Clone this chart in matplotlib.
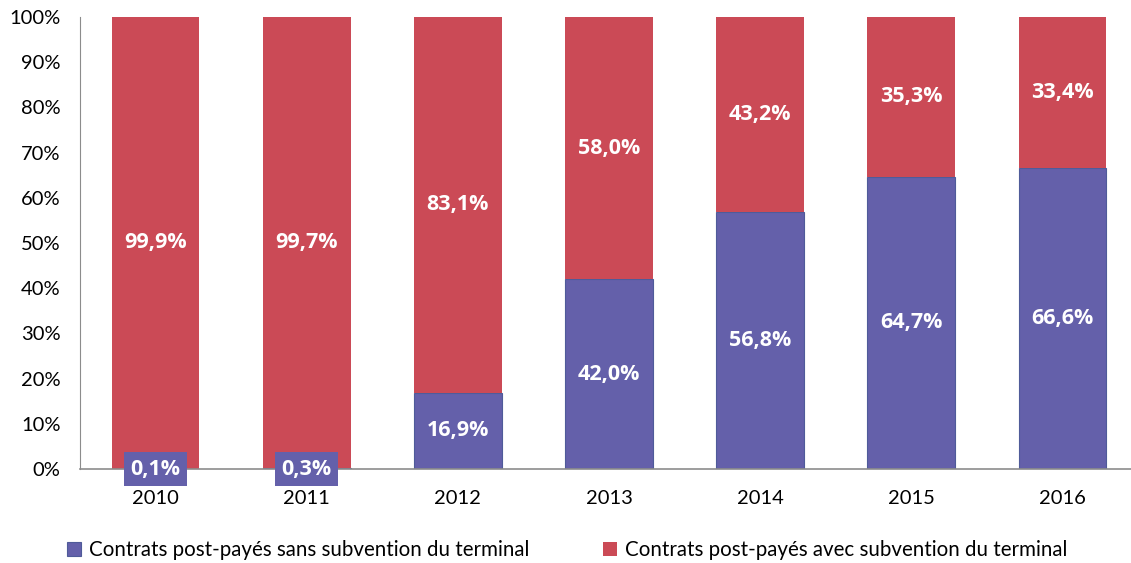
import matplotlib.pyplot as plt
import numpy as np

years = ["2010", "2011", "2012", "2013", "2014", "2015", "2016"]
sans_subv = [0.1, 0.3, 16.9, 42.0, 56.8, 64.7, 66.6]
avec_subv = [99.9, 99.7, 83.1, 58.0, 43.2, 35.3, 33.4]
sans_labels = ["0,1%", "0,3%", "16,9%", "42,0%", "56,8%", "64,7%", "66,6%"]
avec_labels = ["99,9%", "99,7%", "83,1%", "58,0%", "43,2%", "35,3%", "33,4%"]
legend_names = ["Contrats post-payés sans subvention du terminal",
                "Contrats post-payés avec subvention du terminal"]

blue = "#6460AA"
red = "#CB4A56"
plt.rcParams['font.family'] = ['Lato', 'DejaVu Sans']
lab_font = ['Open Sans', 'DejaVu Sans']

fig = plt.figure(figsize=(11.31, 5.63), dpi=100)
ax = fig.add_axes([80/1131, (563-469)/563, (1138-80)/1131, (469-17)/563])
x = np.arange(len(years))
w = 0.58
b1 = ax.bar(x, sans_subv, w, color=blue, edgecolor="#4F5B99", linewidth=0.8, label=legend_names[0], zorder=2)
b2 = ax.bar(x, avec_subv, w, bottom=sans_subv, color=red, label=legend_names[1], zorder=2)

for i in range(len(years)):
    yb = sans_subv[i] / 2
    if sans_subv[i] < 5:
        ax.text(x[i], 0, sans_labels[i], ha="center", va="center", color="white",
                fontsize=15.5, fontweight="bold", family=lab_font, zorder=5,
                bbox=dict(boxstyle="square,pad=0.3", facecolor=blue, edgecolor="none"),
                clip_on=False)
    else:
        ax.text(x[i], yb, sans_labels[i], ha="center", va="center", color="white",
                fontsize=15.5, fontweight="bold", family=lab_font, zorder=5)
    ya = sans_subv[i] + avec_subv[i] / 2
    ax.text(x[i], ya, avec_labels[i], ha="center", va="center", color="white",
            fontsize=15.5, fontweight="bold", family=lab_font, zorder=5)

ax.set_xlim(-0.5, 6.5)
ax.set_ylim(0, 100)
ax.set_yticks(np.arange(0, 101, 10))
ax.set_yticklabels([f"{v}%" for v in range(0, 101, 10)], fontsize=14.5)
ax.set_xticks(x)
ax.set_xticklabels(years, fontsize=14.5)
ax.tick_params(axis="y", length=0, pad=14)
ax.tick_params(axis="x", length=0, pad=15)
for s in ["top", "right"]:
    ax.spines[s].set_visible(False)
ax.spines["left"].set_color("#8C8C8C")
ax.spines["bottom"].set_color("#8C8C8C")
ax.spines["bottom"].set_linewidth(1.2)

fig.legend(handles=[b1, b2], labels=legend_names, loc="center", bbox_to_anchor=(567/1131, 1 - 550/563),
           ncol=2, frameon=False, fontsize=14.8, handlelength=0.7, handleheight=0.7,
           handletextpad=0.35, columnspacing=3.6)

fig.savefig("out.png", dpi=100)
